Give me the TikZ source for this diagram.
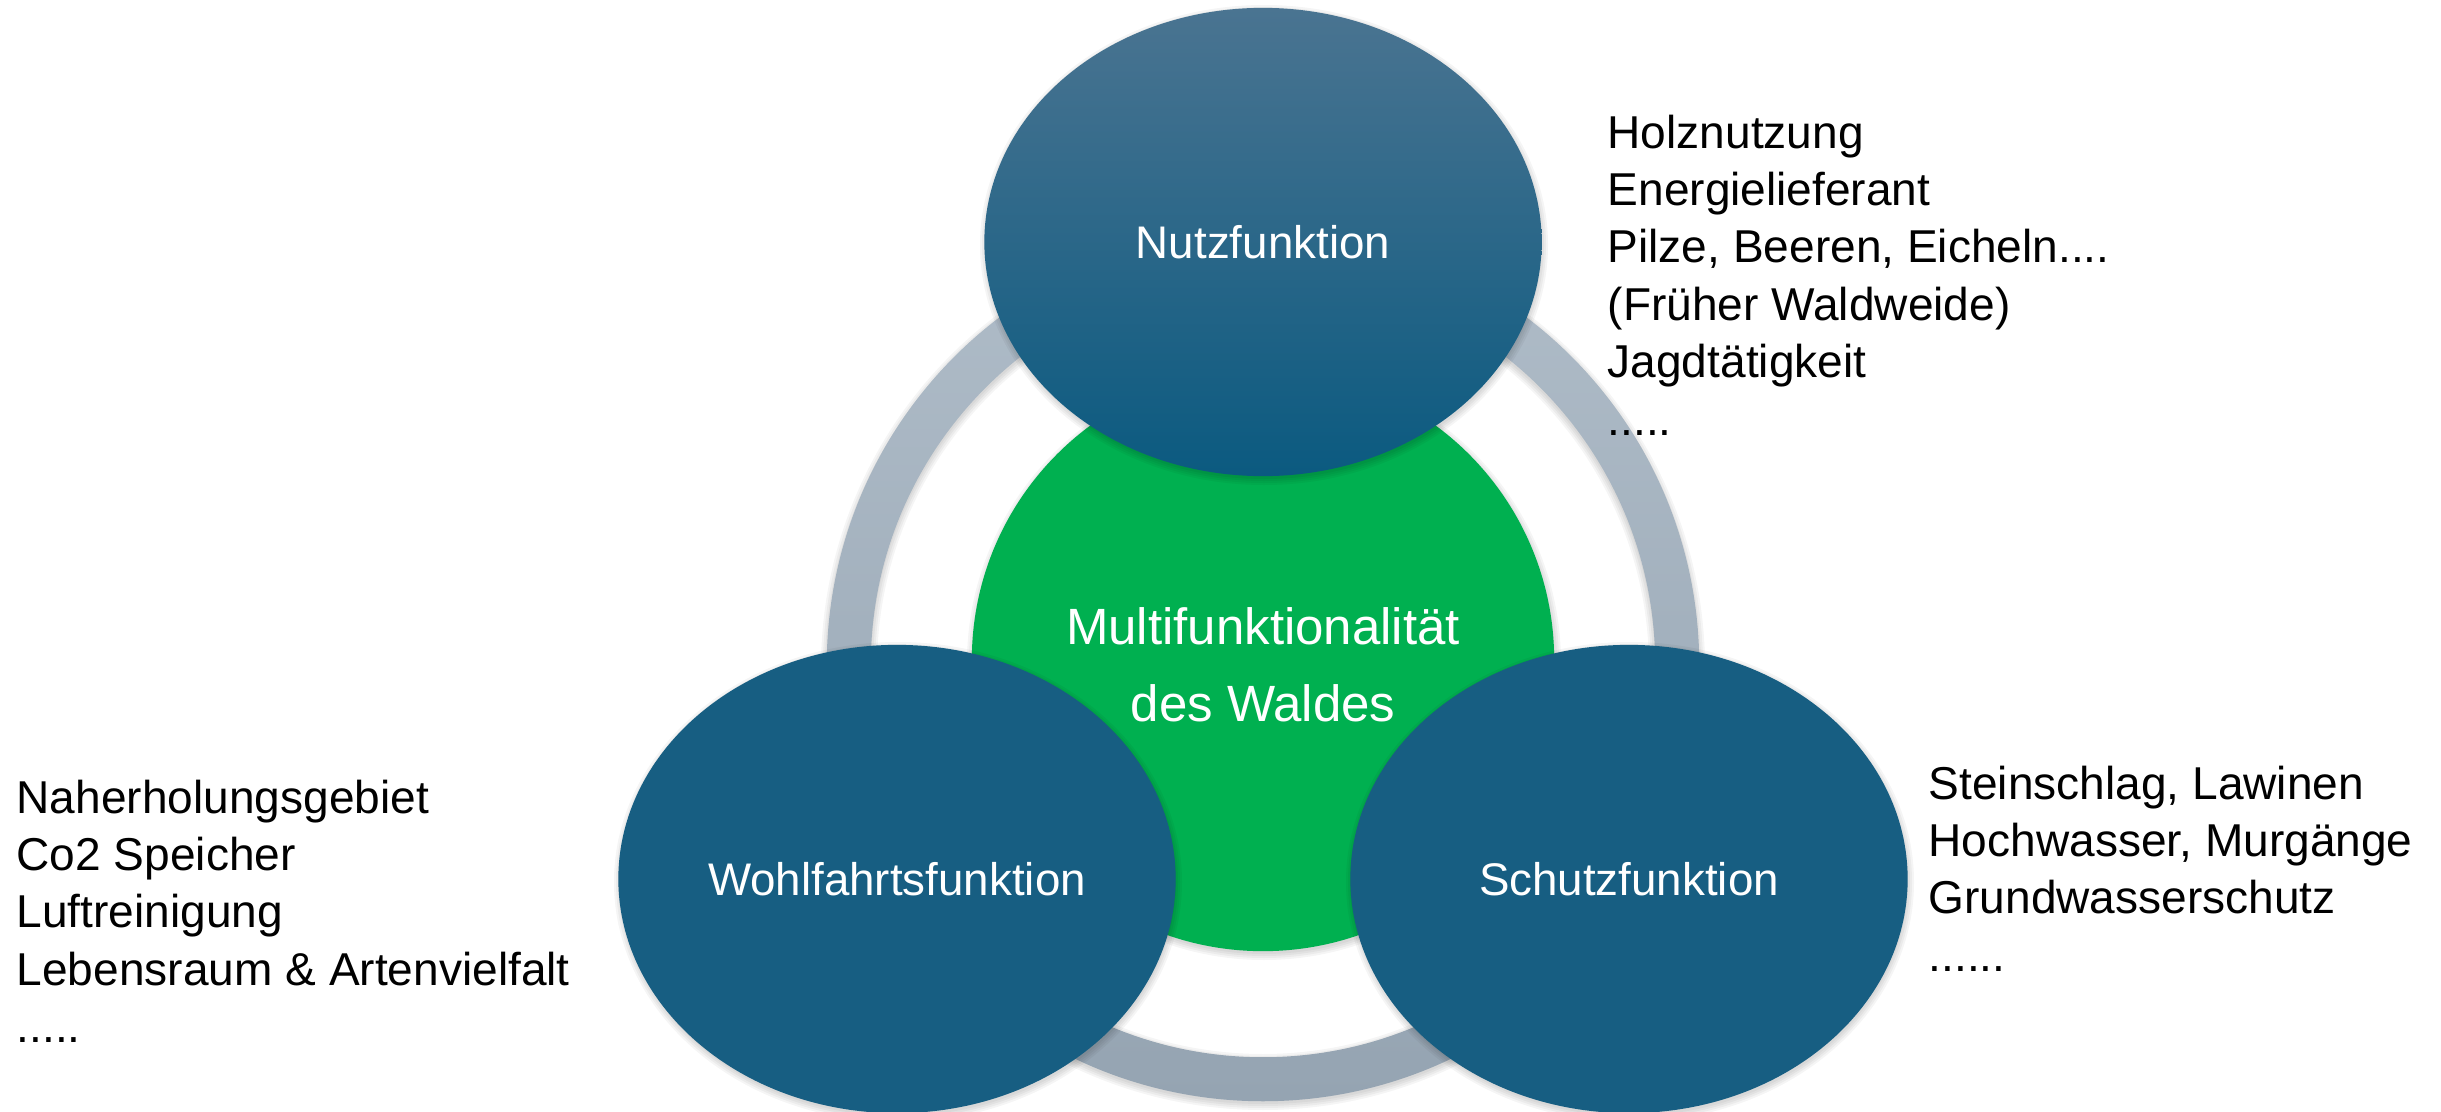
\documentclass[tikz,border=0pt]{standalone}
\usepackage{fontspec}
\setmainfont{Liberation Sans}
\usetikzlibrary{shapes.geometric}
\definecolor{topA}{HTML}{4A7491}
\definecolor{topB}{HTML}{0B5A80}
\definecolor{blueB}{HTML}{175E82}
\definecolor{greenC}{HTML}{00B050}
\definecolor{ringA}{HTML}{AFBCC8}
\definecolor{ringB}{HTML}{95A4B2}
\newcommand\softshadowell[3]{%
  \foreach \k in {0,2,4,6}{%
    \fill[black,opacity=0.04] (#1) ++(1,3) ellipse [x radius={(#2+\k)*0.01cm}, y radius={(#3+\k)*0.01cm}];
  }}
\begin{document}
\begin{tikzpicture}[x=0.01cm,y=-0.01cm,
  funcell/.style={ellipse, inner sep=0pt, outer sep=0pt,
    minimum width=5.57cm, minimum height=4.68cm, text=white,
    font=\fontsize{13}{16}\selectfont},
  sidetext/.style={anchor=base west, inner sep=0pt,
    font=\fontsize{13.1}{16.33}\selectfont},
]
\useasboundingbox (0,0) rectangle (2441,1112);
\clip (0,0) rectangle (2441,1112);
\fill[white] (0,0) rectangle (2441,1112);

% ring with soft shadow
\foreach \k in {0,2,4,6}{%
  \fill[black,opacity=0.04,even odd rule] (1263,668) circle [radius={(436+\k)*0.01cm}] circle [radius={(392-\k)*0.01cm}];
}
\coordinate (ringc) at (1263,665);
\shade[top color=ringA, bottom color=ringB, even odd rule]
  (ringc) circle [radius=4.36cm] circle [radius=3.92cm];

% centre
\softshadowell{1263,660}{291}{291}
\node[circle, fill=greenC, minimum size=5.82cm, inner sep=0pt, outer sep=0pt,
  text=white, font=\fontsize{14.5}{21.9}\selectfont] (multi) at (1263,660)
  {\raisebox{0pt}[\dimexpr\height+0.16cm\relax][\depth]{\begin{tabular}{@{}c@{}}Multifunktionalität\\des Waldes\end{tabular}}};

% functions
\softshadowell{897,879}{278}{234}
\softshadowell{1629,879}{278}{234}
\softshadowell{1263,242}{278}{234}
\node[funcell, fill=blueB] (wohl) at (897,879) {Wohlfahrtsfunktion};
\node[funcell, fill=blueB] (schutz) at (1629,879) {Schutzfunktion};
\node[funcell, top color=topA, bottom color=topB] (nutz) at (1263,242) {Nutzfunktion};

% lists
\node[sidetext] (nutzlist) at (1607,148)
  {\begin{tabular}[t]{@{}l@{}}Holznutzung\\Energielieferant\\Pilze, Beeren, Eicheln....\\(Früher Waldweide)\\Jagdtätigkeit\\.....\end{tabular}};
\node[sidetext] (wohllist) at (16,813)
  {\begin{tabular}[t]{@{}l@{}}Naherholungsgebiet\\Co2 Speicher\\Luftreinigung\\Lebensraum \& Artenvielfalt\\.....\end{tabular}};
\node[sidetext] (schutzlist) at (1928,799)
  {\begin{tabular}[t]{@{}l@{}}Steinschlag, Lawinen\\Hochwasser, Murgänge\\Grundwasserschutz\\......\end{tabular}};
\end{tikzpicture}
\end{document}
